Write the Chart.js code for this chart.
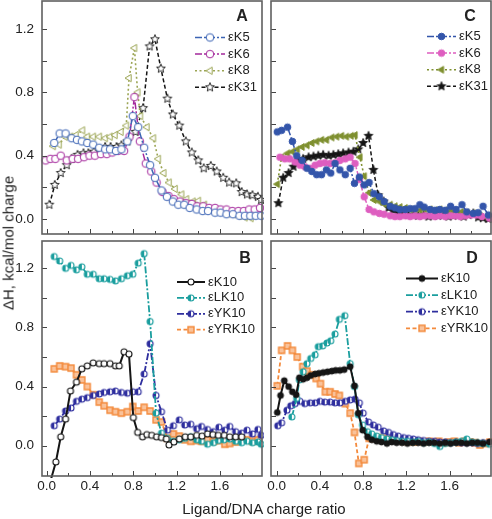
<!DOCTYPE html>
<html>
<head>
<meta charset="utf-8">
<script src="https://cdn.jsdelivr.net/npm/chart.js@4.4.0/dist/chart.umd.min.js"></script>
<style>
body { margin: 0; background: #fff; }
#fig { position: relative; width: 492px; height: 519px; font-family: "Liberation Sans", Arial, sans-serif; color: #222; }
#fig canvas { position: absolute; left: 0; top: 0; }
.letra { position: absolute; font-weight: bold; font-size: 16px; transform: translate(-50%, -50%); }
#ytit { position: absolute; left: 8px; top: 243px; font-size: 15px; white-space: nowrap; transform: translate(-50%, -50%) rotate(-90deg); }
#xtit { position: absolute; left: 264px; top: 508px; font-size: 15px; white-space: nowrap; transform: translate(-50%, -50%); }
</style>
</head>
<body>
<div id="fig">
  <canvas id="cA" width="492" height="519"></canvas>
  <canvas id="cC" width="492" height="519"></canvas>
  <canvas id="cB" width="492" height="519"></canvas>
  <canvas id="cD" width="492" height="519"></canvas>
  <div class="letra" style="left:242px;top:16px">A</div>
  <div class="letra" style="left:470px;top:16px">C</div>
  <div class="letra" style="left:245px;top:258px">B</div>
  <div class="letra" style="left:472px;top:258px">D</div>
  <div id="ytit">ΔH, kcal/mol charge</div>
  <div id="xtit">Ligand/DNA charge ratio</div>
</div>
<script>
// etiquetas de los ejes
var xTicks = [0.0, 0.4, 0.8, 1.2, 1.6];
var yTicks = [0.0, 0.4, 0.8, 1.2];

// Panel A
var xA_K5 = [0.07,0.12,0.175,0.23,0.28,0.325,0.375,0.43,0.485,0.54,0.585,0.64,0.69,0.745,0.795,0.845,0.9,0.955,1.0,1.06,1.11,1.165,1.215,1.27,1.32,1.385,1.44,1.49,1.555,1.605,1.66,1.72,1.78,1.83,1.88,1.93,1.98];
var yA_K5 = [0.48,0.54,0.54,0.51,0.5,0.49,0.48,0.47,0.45,0.44,0.44,0.43,0.44,0.49,0.65,0.58,0.45,0.34,0.26,0.18,0.14,0.11,0.09,0.09,0.07,0.06,0.05,0.05,0.04,0.04,0.03,0.03,0.02,0.02,0.02,0.02,0.02];
var xA_K6 = [-0.01,0.035,0.08,0.13,0.185,0.24,0.29,0.345,0.395,0.445,0.5,0.555,0.605,0.66,0.715,0.765,0.81,0.86,0.915,0.965,1.015,1.07,1.125,1.175,1.23,1.285,1.34,1.39,1.445,1.5,1.555,1.605,1.66,1.715,1.77,1.82,1.87,1.92,1.97];
var yA_K6 = [0.37,0.38,0.38,0.40,0.37,0.38,0.38,0.39,0.40,0.40,0.41,0.41,0.42,0.43,0.43,0.52,0.77,0.49,0.35,0.30,0.23,0.17,0.145,0.125,0.11,0.10,0.095,0.08,0.08,0.07,0.07,0.06,0.06,0.05,0.05,0.05,0.06,0.06,0.07];
var xA_K8 = [0.06,0.115,0.17,0.22,0.27,0.33,0.375,0.43,0.485,0.54,0.585,0.63,0.685,0.735,0.76,0.81,0.84,0.865,0.925,0.985,1.03,1.08,1.13,1.185,1.245,1.29,1.35,1.4,1.455,1.51,1.565,1.615,1.67,1.725,1.775,1.83,1.885];
var yA_K8 = [0.46,0.47,0.52,0.52,0.53,0.56,0.52,0.52,0.52,0.51,0.52,0.53,0.55,0.59,0.89,1.08,0.80,0.65,0.58,0.51,0.38,0.29,0.23,0.19,0.155,0.125,0.11,0.115,0.09,0.06,0.055,0.045,0.035,0.03,0.02,0.01,0.005];
var xA_K31 = [0.025,0.075,0.13,0.185,0.23,0.285,0.34,0.385,0.435,0.49,0.54,0.59,0.645,0.69,0.745,0.82,0.89,0.95,1.0,1.055,1.115,1.165,1.225,1.285,1.34,1.4,1.45,1.515,1.57,1.63,1.685,1.75,1.8,1.85,1.9,1.95,1.98];
var yA_K31 = [0.09,0.215,0.29,0.34,0.38,0.405,0.415,0.415,0.425,0.435,0.455,0.455,0.455,0.465,0.49,0.55,0.70,1.09,1.135,0.95,0.76,0.66,0.59,0.49,0.42,0.37,0.32,0.335,0.30,0.26,0.23,0.225,0.17,0.155,0.15,0.14,0.12];

// Panel C
var xC_K5 = [0.005,0.045,0.1,0.145,0.185,0.235,0.28,0.325,0.37,0.415,0.46,0.5,0.54,0.585,0.635,0.68,0.72,0.765,0.81,0.855,0.9,0.95,0.995,1.05,1.095,1.14,1.19,1.235,1.28,1.325,1.365,1.42,1.465,1.51,1.56,1.61,1.66,1.715,1.76,1.82,1.865,1.91,1.96];
var yC_K5 = [0.55,0.56,0.58,0.49,0.40,0.37,0.32,0.30,0.28,0.28,0.31,0.29,0.35,0.31,0.28,0.32,0.225,0.265,0.215,0.23,0.16,0.14,0.11,0.08,0.07,0.06,0.06,0.065,0.065,0.09,0.075,0.06,0.055,0.06,0.055,0.08,0.06,0.09,0.045,0.035,0.04,0.08,0.025];
var xC_K6 = [0.03,0.075,0.12,0.17,0.215,0.26,0.31,0.355,0.4,0.445,0.495,0.54,0.585,0.635,0.68,0.725,0.765,0.81,0.855,0.9,0.95,0.995,1.05,1.095,1.14,1.19,1.235,1.28,1.325,1.37,1.42,1.465,1.51,1.56,1.61,1.655,1.7,1.75,1.8,1.85,1.9,1.97];
var yC_K6 = [0.39,0.38,0.38,0.36,0.34,0.33,0.32,0.34,0.35,0.355,0.35,0.355,0.37,0.38,0.39,0.35,0.25,0.14,0.06,0.045,0.035,0.03,0.02,0.015,0.015,0.02,0.015,0.02,0.015,0.02,0.02,0.015,0.02,0.015,0.02,0.02,0.015,0.02,0.025,0.025,0.015,0.005];
var xC_K8 = [0.005,0.045,0.1,0.145,0.19,0.235,0.28,0.325,0.37,0.415,0.46,0.51,0.555,0.6,0.645,0.69,0.725,0.77,0.81,0.855,0.9,0.95,0.995,1.05,1.095,1.14,1.19,1.235,1.28,1.325,1.37,1.42,1.465,1.51,1.56,1.61,1.66,1.71,1.76,1.82,1.88,1.96];
var yC_K8 = [0.22,0.39,0.415,0.425,0.44,0.455,0.465,0.48,0.49,0.5,0.5,0.515,0.52,0.525,0.52,0.525,0.53,0.39,0.27,0.165,0.12,0.11,0.095,0.09,0.08,0.075,0.07,0.06,0.06,0.055,0.06,0.06,0.055,0.06,0.055,0.05,0.05,0.045,0.04,0.035,0.02,0.005];
var xC_K31 = [0.015,0.06,0.11,0.155,0.2,0.245,0.295,0.34,0.385,0.43,0.48,0.525,0.57,0.615,0.665,0.71,0.755,0.8,0.85,0.895,0.94,0.99,1.035,1.08,1.125,1.175,1.22,1.265,1.31,1.36,1.405,1.45,1.495,1.545,1.59,1.635,1.68,1.73,1.775,1.82,1.865,1.91,1.96];
var yC_K31 = [0.10,0.26,0.29,0.33,0.37,0.38,0.39,0.395,0.4,0.405,0.4,0.405,0.41,0.415,0.42,0.425,0.44,0.48,0.525,0.31,0.15,0.11,0.07,0.055,0.04,0.03,0.025,0.025,0.02,0.025,0.015,0.02,0.02,0.025,0.015,0.02,0.025,0.015,0.025,0.035,0.01,0.005,0.0];

// Panel B
var xB_K10 = [0.02,0.085,0.13,0.175,0.22,0.275,0.325,0.375,0.43,0.485,0.53,0.585,0.635,0.67,0.715,0.76,0.8,0.84,0.885,0.925,0.97,1.015,1.06,1.105,1.13,1.175,1.225,1.28,1.33,1.385,1.435,1.485,1.535,1.585,1.64,1.69,1.745,1.8];
var yB_K10 = [-0.28,-0.11,0.06,0.18,0.37,0.43,0.52,0.54,0.56,0.555,0.555,0.555,0.54,0.54,0.635,0.62,0.19,0.09,0.06,0.075,0.07,0.06,0.055,0.045,0.005,0.025,0.045,0.06,0.06,0.07,0.065,0.08,0.075,0.07,0.07,0.06,0.06,0.06];
var xB_LK10 = [0.07,0.12,0.175,0.225,0.275,0.325,0.375,0.43,0.485,0.53,0.585,0.635,0.69,0.745,0.795,0.845,0.9,0.955,1.01,1.06,1.115,1.17,1.225,1.275,1.33,1.385,1.43,1.485,1.54,1.585,1.635,1.69,1.745,1.8,1.85,1.9,1.95,1.98];
var yB_LK10 = [1.28,1.25,1.2,1.22,1.19,1.21,1.16,1.16,1.13,1.13,1.125,1.115,1.13,1.15,1.16,1.235,1.3,0.84,0.22,0.085,0.05,0.03,0.04,0.05,0.06,0.04,0.03,0.01,0.02,0.035,0.04,0.045,0.03,0.02,0.03,0.02,0.025,0.01];
var xB_YK10 = [0.07,0.12,0.175,0.225,0.275,0.325,0.375,0.43,0.485,0.53,0.585,0.635,0.69,0.745,0.795,0.845,0.9,0.955,1.01,1.06,1.115,1.17,1.225,1.275,1.33,1.385,1.43,1.485,1.54,1.59,1.645,1.69,1.745,1.8,1.85,1.9,1.95,1.98];
var yB_YK10 = [0.135,0.18,0.235,0.255,0.3,0.315,0.325,0.34,0.35,0.36,0.365,0.37,0.36,0.355,0.365,0.365,0.485,0.69,0.34,0.23,0.105,0.135,0.175,0.14,0.145,0.115,0.13,0.11,0.095,0.125,0.105,0.13,0.095,0.085,0.105,0.08,0.11,0.07];
var xB_YRK10 = [0.07,0.12,0.175,0.225,0.275,0.325,0.375,0.43,0.485,0.53,0.585,0.635,0.69,0.745,0.795,0.845,0.9,0.955,1.01,1.06,1.115,1.17,1.225,1.275,1.33,1.385,1.43,1.485,1.54,1.59,1.645,1.69,1.745,1.8,1.85,1.9,1.95];
var yB_YRK10 = [0.52,0.54,0.535,0.525,0.48,0.445,0.40,0.345,0.295,0.27,0.24,0.23,0.22,0.23,0.265,0.235,0.26,0.235,0.175,0.16,0.05,0.08,0.065,0.04,0.03,0.035,0.03,0.04,0.03,0.035,0.01,0.015,0.025,0.04,0.04,0.03,0.04];

// Panel D
var xD_K10 = [0.005,0.035,0.07,0.11,0.145,0.18,0.21,0.245,0.28,0.315,0.355,0.39,0.43,0.47,0.51,0.545,0.585,0.625,0.68,0.72,0.755,0.795,0.84,0.88,0.925,0.97,1.02,1.065,1.11,1.16,1.21,1.26,1.31,1.36,1.41,1.46,1.51,1.56,1.61,1.66,1.71,1.76,1.81,1.86,1.91,1.97];
var yD_K10 = [0.225,0.34,0.44,0.40,0.365,0.345,0.46,0.45,0.46,0.475,0.485,0.49,0.495,0.50,0.505,0.51,0.51,0.515,0.535,0.405,0.22,0.105,0.06,0.04,0.03,0.025,0.015,0.025,0.02,0.02,0.015,0.02,0.02,0.015,0.02,0.02,0.015,0.02,0.015,0.02,0.02,0.015,0.02,0.02,0.015,0.025];
var xD_LK10 = [0.14,0.185,0.21,0.245,0.28,0.315,0.355,0.385,0.425,0.465,0.5,0.54,0.58,0.63,0.68,0.72,0.755,0.795,0.84,0.88,0.925,0.97,1.02,1.065,1.11,1.16,1.21,1.26,1.31,1.36,1.41,1.46,1.51,1.56,1.61,1.66,1.71,1.76,1.81,1.86,1.91,1.97];
var yD_LK10 = [0.195,0.32,0.445,0.50,0.555,0.59,0.615,0.67,0.675,0.695,0.71,0.755,0.855,0.88,0.555,0.40,0.21,0.14,0.095,0.08,0.065,0.055,0.045,0.04,0.035,0.03,0.03,0.025,0.03,0.02,0.025,0.015,-0.005,0.015,0.02,0.025,0.03,0.045,0.025,0.02,0.015,0.01];
var xD_YK10 = [0.01,0.045,0.095,0.13,0.17,0.215,0.26,0.31,0.355,0.4,0.445,0.495,0.54,0.585,0.635,0.68,0.725,0.765,0.8,0.85,0.895,0.94,0.99,1.035,1.08,1.125,1.175,1.22,1.265,1.31,1.36,1.41,1.46,1.51,1.56,1.61,1.66,1.71,1.76,1.81,1.86,1.91,1.97];
var yD_YK10 = [0.135,0.155,0.24,0.27,0.285,0.3,0.285,0.29,0.29,0.3,0.295,0.295,0.29,0.29,0.3,0.31,0.315,0.29,0.22,0.16,0.14,0.125,0.1,0.09,0.075,0.065,0.055,0.05,0.045,0.04,0.035,0.03,0.03,0.025,0.025,0.02,0.025,0.02,0.02,0.02,0.015,0.02,0.02];
var xD_YRK10 = [0.005,0.045,0.1,0.145,0.19,0.24,0.28,0.325,0.365,0.405,0.45,0.495,0.54,0.58,0.635,0.68,0.72,0.76,0.81,0.855,0.895,0.94,0.99,1.035,1.08,1.13,1.175,1.22,1.27,1.315,1.36,1.41,1.455,1.5,1.55,1.6,1.645,1.69,1.74,1.79,1.835,1.88,1.93,1.975];
var yD_YRK10 = [0.405,0.645,0.675,0.645,0.6,0.535,0.505,0.48,0.455,0.42,0.365,0.365,0.35,0.34,0.285,0.22,0.09,-0.12,-0.095,0.05,0.05,0.055,0.05,0.04,0.045,0.035,0.03,0.03,0.025,0.03,0.025,0.03,0.025,0.03,0.02,0.025,0.03,0.02,0.03,0.025,0.02,0.005,0.015,0.025];

var fuente = '"Liberation Sans", Arial, sans-serif';
var guionPunto = [7, 2, 2, 2];
var guiones = [4, 2.5];
var puntos = [2, 2.5];

// marcadores dibujados en un canvas pequeño
function marca(forma, borde, relleno, r, lw) {
    var c = document.createElement('canvas');
    var t = Math.ceil(2 * r + 4);
    c.width = t; c.height = t;
    var g = c.getContext('2d');
    var m = t / 2;
    g.lineWidth = lw;
    g.strokeStyle = borde;
    g.beginPath();
    if (forma == 'circulo' || forma == 'medio') {
        g.arc(m, m, r, 0, 2 * Math.PI);
    } else if (forma == 'triangulo') { // apunta a la izquierda
        g.moveTo(m - r, m);
        g.lineTo(m + r * 0.55, m - r * 0.9);
        g.lineTo(m + r * 0.55, m + r * 0.9);
        g.closePath();
    } else if (forma == 'estrella') {
        for (var i = 0; i < 10; i++) {
            var rr = i % 2 ? r * 0.45 : r;
            var a = -Math.PI / 2 + i * Math.PI / 5;
            g.lineTo(m + rr * Math.cos(a), m + rr * Math.sin(a));
        }
        g.closePath();
    } else if (forma == 'cuadro') {
        g.rect(m - r, m - r, 2 * r, 2 * r);
    }
    g.fillStyle = relleno;
    g.fill();
    if (forma == 'medio') {
        g.save();
        g.beginPath();
        g.arc(m, m, r, Math.PI / 2, 3 * Math.PI / 2);
        g.closePath();
        g.fillStyle = borde;
        g.fill();
        g.restore();
        g.beginPath();
        g.arc(m, m, r, 0, 2 * Math.PI);
    }
    g.stroke();
    return c;
}

function serie(label, xs, ys, color, dash, ancho, punto) {
    return {
        label: label,
        data: xs.map(function(x, i) { return {x: x, y: ys[i]}; }),
        borderColor: color,
        borderDash: dash,
        borderWidth: ancho,
        pointStyle: punto,
        pointRadius: 4,
        tension: 0,
        fill: false,
        clip: 2
    };
}

// marco del panel y marcas hacia dentro
var marco = {
    id: 'marco',
    afterDatasetsDraw: function(chart) {
        var ctx = chart.ctx, a = chart.chartArea;
        var sx = chart.scales.x, sy = chart.scales.y;
        ctx.save();
        ctx.strokeStyle = '#444';
        ctx.lineWidth = 1;
        ctx.beginPath();
        for (var k = 0; k <= 9; k++) {
            var px = Math.round(sx.getPixelForValue(k * 0.2)) + 0.5;
            var len = (k % 2 == 0) ? 5 : 3;
            ctx.moveTo(px, a.bottom);
            ctx.lineTo(px, a.bottom - len);
        }
        for (var j = 0; j <= 6; j++) {
            var py = Math.round(sy.getPixelForValue(j * 0.2)) + 0.5;
            ctx.moveTo(a.left, py);
            ctx.lineTo(a.left + 5, py);
        }
        ctx.stroke();
        ctx.strokeStyle = '#606060';
        ctx.lineWidth = 1.6;
        ctx.strokeRect(a.left, a.top, a.right - a.left, a.bottom - a.top);
        ctx.restore();
    }
};

// leyenda dentro del panel
var leyenda = {
    id: 'leyenda',
    afterDatasetsDraw: function(chart, args, o) {
        var ctx = chart.ctx;
        ctx.save();
        chart.data.datasets.forEach(function(ds, i) {
            var yy = o.y + i * o.dy;
            ctx.setLineDash(ds.borderDash || []);
            ctx.strokeStyle = ds.borderColor;
            ctx.lineWidth = ds.borderWidth;
            ctx.beginPath();
            ctx.moveTo(o.x, yy);
            ctx.lineTo(o.x + o.len, yy);
            ctx.stroke();
            ctx.setLineDash([]);
            var st = ds.pointStyle;
            ctx.drawImage(st, o.x + o.len / 2 - st.width / 2, yy - st.height / 2);
            ctx.fillStyle = '#222';
            ctx.font = '13px ' + fuente;
            ctx.textBaseline = 'middle';
            ctx.textAlign = 'left';
            ctx.fillText(ds.label, o.x + o.len + 3, yy);
        });
        ctx.restore();
    }
};

function crearPanel(id, datasets, cfg) {
    var ar = cfg.area;
    var anchoY = cfg.yLab ? ar[0] : 0;
    var altoX = cfg.xLab ? 519 - ar[3] : 0;
    new Chart(document.getElementById(id), {
        type: 'line',
        data: {datasets: datasets},
        options: {
            responsive: false,
            animation: false,
            devicePixelRatio: 1,
            events: [],
            layout: {
                autoPadding: false,
                padding: {left: ar[0] - anchoY, top: ar[1], right: 492 - ar[2], bottom: 519 - ar[3] - altoX}
            },
            scales: {
                x: {
                    type: 'linear', min: cfg.xmin, max: cfg.xmax,
                    afterFit: function(s) { s.height = altoX; s.paddingLeft = 0; s.paddingRight = 0; },
                    afterBuildTicks: function(s) { s.ticks = xTicks.map(function(v) { return {value: v}; }); },
                    grid: {display: false, drawTicks: false},
                    border: {display: false},
                    ticks: {display: cfg.xLab, padding: 2, maxRotation: 0, autoSkip: false, color: '#222',
                        font: {family: fuente, size: 13.5}, callback: function(v) { return v.toFixed(1); }}
                },
                y: {
                    type: 'linear', min: cfg.ymin, max: cfg.ymax,
                    afterFit: function(s) { s.width = anchoY; s.paddingTop = 0; s.paddingBottom = 0; },
                    afterBuildTicks: function(s) { s.ticks = yTicks.map(function(v) { return {value: v}; }); },
                    grid: {display: false, drawTicks: false},
                    border: {display: false},
                    ticks: {display: cfg.yLab, padding: 8, color: '#222',
                        font: {family: fuente, size: 13.5}, callback: function(v) { return v.toFixed(1); }}
                }
            },
            plugins: {
                legend: {display: false},
                tooltip: {enabled: false},
                leyenda: cfg.ley
            }
        },
        plugins: [marco, leyenda]
    });
}

var negro = '#151515', teal = '#1a9e9e', azulOsc = '#2e2e9e', naranja = '#f48a3c';

crearPanel('cA', [
    serie('\u03b5K5', xA_K5, yA_K5, '#3c64b4', guionPunto, 1.5, marca('circulo', '#3c64b4', '#fff', 3.8, 1)),
    serie('\u03b5K6', xA_K6, yA_K6, '#a4289c', guionPunto, 1.5, marca('circulo', '#a4289c', '#fff', 3.8, 1)),
    serie('\u03b5K8', xA_K8, yA_K8, '#9ca554', puntos, 1.6, marca('triangulo', '#9ca554', '#fff', 4, 1)),
    serie('\u03b5K31', xA_K31, yA_K31, negro, guiones, 1.5, marca('estrella', negro, '#fff', 4.6, 0.9))
], {area: [42, 1, 262, 234], xmin: -0.043, xmax: 1.988, ymin: -0.095, ymax: 1.377, xLab: false, yLab: true,
    ley: {x: 195, y: 37.5, dy: 16.6, len: 30}});

crearPanel('cC', [
    serie('\u03b5K5', xC_K5, yC_K5, '#3355aa', guionPunto, 1.5, marca('circulo', '#3355aa', '#3355aa', 3.3, 1)),
    serie('\u03b5K6', xC_K6, yC_K6, '#de5ec0', guionPunto, 1.5, marca('circulo', '#de5ec0', '#de5ec0', 3.3, 1)),
    serie('\u03b5K8', xC_K8, yC_K8, '#7f9030', puntos, 1.6, marca('triangulo', '#7f9030', '#7f9030', 3.8, 1)),
    serie('\u03b5K31', xC_K31, yC_K31, negro, guiones, 1.5, marca('estrella', negro, negro, 4.6, 0.8))
], {area: [271, 1, 491, 234], xmin: -0.053, xmax: 1.984, ymin: -0.095, ymax: 1.377, xLab: false, yLab: false,
    ley: {x: 427, y: 36.5, dy: 16.6, len: 29}});

crearPanel('cB', [
    serie('\u03b5K10', xB_K10, yB_K10, negro, [], 2, marca('circulo', negro, '#fff', 3, 1.1)),
    serie('\u03b5LK10', xB_LK10, yB_LK10, teal, guionPunto, 1.8, marca('medio', teal, '#fff', 3, 1.1)),
    serie('\u03b5YK10', xB_YK10, yB_YK10, azulOsc, guionPunto, 1.8, marca('medio', azulOsc, '#fff', 3, 1.1)),
    serie('\u03b5YRK10', xB_YRK10, yB_YRK10, naranja, guiones, 1.8, marca('cuadro', naranja, '#f9c29a', 3, 1.4))
], {area: [42, 241, 262, 476], xmin: -0.043, xmax: 1.988, ymin: -0.205, ymax: 1.385, xLab: true, yLab: true,
    ley: {x: 177, y: 282, dy: 15.9, len: 28}});

crearPanel('cD', [
    serie('\u03b5K10', xD_K10, yD_K10, negro, [], 2, marca('circulo', negro, negro, 3, 1)),
    serie('\u03b5LK10', xD_LK10, yD_LK10, teal, guionPunto, 1.8, marca('medio', teal, '#fff', 3, 1.1)),
    serie('\u03b5YK10', xD_YK10, yD_YK10, azulOsc, guionPunto, 1.8, marca('medio', azulOsc, '#fff', 3, 1.1)),
    serie('\u03b5YRK10', xD_YRK10, yD_YRK10, naranja, guiones, 1.8, marca('cuadro', naranja, '#f9c29a', 3, 1.4))
], {area: [271, 241, 491, 476], xmin: -0.053, xmax: 1.984, ymin: -0.205, ymax: 1.385, xLab: true, yLab: false,
    ley: {x: 406, y: 278.5, dy: 16.6, len: 32}});
</script>
</body>
</html>
